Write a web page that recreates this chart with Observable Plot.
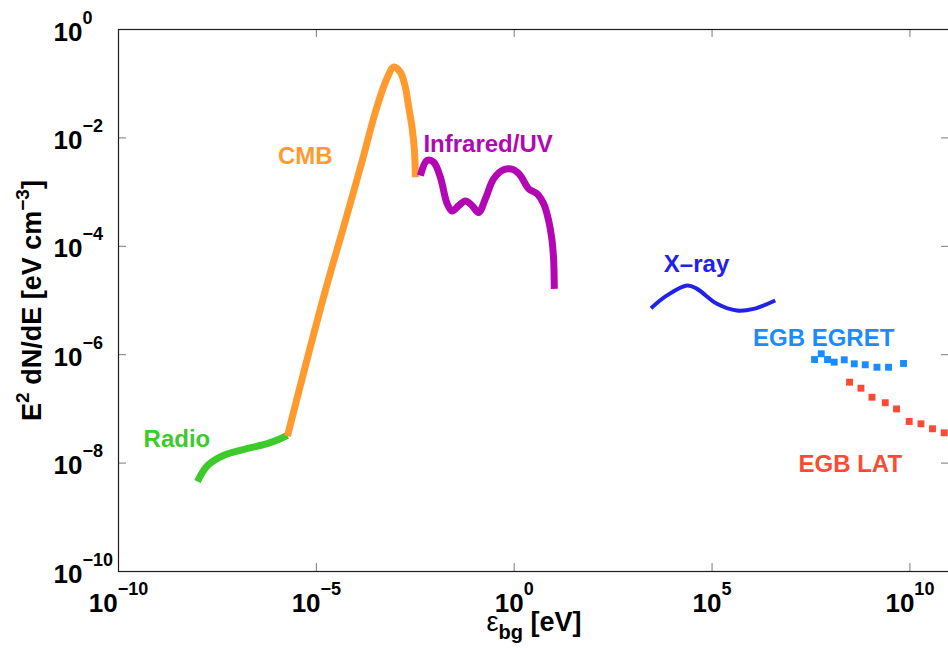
<!DOCTYPE html>
<html>
<head>
<meta charset="utf-8">
<script src="https://cdn.jsdelivr.net/npm/d3@7"></script>
<script src="https://cdn.jsdelivr.net/npm/@observablehq/plot@0.6"></script>
<style>
  html, body { margin: 0; padding: 0; background: #fff; overflow: hidden; }
  svg text { white-space: pre; }
</style>
</head>
<body>
<script>
// Photon background energy densities, E^2 dN/dE in eV cm^-3 against energy in eV.

const radioEnergy = [9.9e-9, 1.78e-8, 4.47e-8, 1.82e-7, 5.75e-7, 1.23e-6, 1.86e-6];
const radioFlux   = [4.57e-9, 9.0e-9, 1.38e-8, 1.86e-8, 2.29e-8, 2.82e-8, 3.24e-8];

const cmbEnergy = [1.86e-6, 1.51e-5, 5.43e-5, 1.38e-4, 3.30e-4, 6.07e-4, 9.12e-4,
                   1.33e-3, 1.78e-3, 2.16e-3, 2.62e-3, 3.01e-3, 3.18e-3];
const cmbFlux   = [3.16e-8, 1.135e-5, 2.99e-4, 3.37e-3, 3.48e-2, 0.1247, 0.203,
                   0.163, 8.51e-2, 3.68e-2, 1.57e-2, 5.86e-3, 1.88e-3];

const irEnergy = [4.26e-3, 6.28e-3, 9.23e-3, 1.36e-2, 2.01e-2, 2.69e-2, 3.95e-2, 5.83e-2, 8.61e-2,
                  0.126, 0.187, 0.303, 0.541, 0.968, 1.43, 2.32, 3.78, 5.55, 7.41, 9.04, 9.93, 10.3];
const irFlux   = [2.02e-3, 3.83e-3, 3.56e-3, 1.88e-3, 6.17e-4, 4.47e-4, 5.62e-4, 6.84e-4, 5.62e-4,
                  4.21e-4, 7.52e-4, 1.76e-3, 2.58e-3, 2.58e-3, 2.02e-3, 1.15e-3, 9.31e-4, 6.08e-4,
                  2.99e-4, 1.28e-4, 5.47e-5, 1.64e-5];

const xrayEnergy = [2.86e3, 7.26e3, 2.33e4, 4.16e4, 1.33e5, 4.27e5, 1.12e6, 3.95e6];
const xrayFlux   = [7.21e-6, 1.24e-5, 1.89e-5, 1.64e-5, 8.69e-6, 6.53e-6, 7.01e-6, 1.0e-5];

const egretEnergy = [3.89e7, 5.74e7, 8.28e7, 1.22e8, 2.19e8, 3.92e8, 7.43e8, 1.47e9, 2.88e9, 6.89e9];
const egretFlux   = [8.15e-7, 1.04e-6, 8.15e-7, 7.28e-7, 8.05e-7, 6.79e-7, 6.52e-7, 5.87e-7, 5.87e-7, 6.89e-7];

const latEnergy = [2.98e8, 5.78e8, 1.10e9, 2.38e9, 4.59e9, 9.59e9, 1.90e10, 3.72e10, 7.36e10];
const latFlux   = [3.11e-7, 2.41e-7, 1.64e-7, 1.30e-7, 1.00e-7, 5.86e-8, 5.31e-8, 4.30e-8, 3.62e-8];

const xTicks = [1e-10, 1e-5, 1, 1e5, 1e10];
const yTicks = [1e-10, 1e-8, 1e-6, 1e-4, 1e-2, 1];

const xTitle = "ε_{bg} [eV]";
const yTitle = "E^{2} dN/dE [eV cm^{−3}]";

// Series labels: name, colour and the point (eV, eV cm^-3) where the text baseline starts.
const seriesLabels = [
  { text: "Radio",       color: "#3ccb2a", x: 4.3e-10, y: 2.02e-8 },
  { text: "CMB",         color: "#ff9a2e", x: 1.07e-6, y: 3.37e-3 },
  { text: "Infrared/UV", color: "#b307b3", x: 5.07e-3, y: 5.5e-3 },
  { text: "X–ray",       color: "#2121ec", x: 6.04e3,  y: 3.36e-5 },
  { text: "EGB EGRET",   color: "#1a8cff", x: 1.08e6,  y: 1.42e-6 },
  { text: "EGB LAT",     color: "#ff4a33", x: 1.53e7,  y: 6.86e-9 }
];

const expLabel = v => "10^{" + String(Math.round(Math.log10(v))).replace("-", "−") + "}";
const font = "'Liberation Sans', Arial, Helvetica, sans-serif";
const tickGray = "#7a7a7a";

const chart = Plot.plot({
  width: 948,
  height: 648,
  marginLeft: 118,
  marginRight: -1,
  marginTop: 29,
  marginBottom: 77,
  style: { fontFamily: font, background: "#fff", overflow: "hidden" },
  x: { type: "log", domain: [1e-10, 1e11], axis: null },
  y: { type: "log", domain: [1e-10, 1], axis: null },
  marks: [
    // inward ticks on all four sides
    Plot.tickX(xTicks.slice(1), { x: d => d, stroke: tickGray, insetTop: 534 }),
    Plot.tickX(xTicks.slice(1), { x: d => d, stroke: tickGray, insetBottom: 534 }),
    Plot.tickY(yTicks.slice(1, -1), { y: d => d, stroke: tickGray, insetRight: 823 }),
    Plot.tickY(yTicks.slice(1, -1), { y: d => d, stroke: tickGray, insetLeft: 823 }),
    Plot.frame({ stroke: "#1c1c1c", strokeWidth: 1.2 }),

    // tick labels (exponents become superscripts below)
    Plot.text(xTicks, {
      x: d => d, frameAnchor: "bottom", dy: 40, lineAnchor: "bottom",
      text: expLabel, fontSize: 26, fontWeight: "bold", fill: "#000"
    }),
    Plot.text(yTicks, {
      y: d => d, frameAnchor: "left", dx: -65, dy: 11, textAnchor: "start", lineAnchor: "bottom",
      text: expLabel, fontSize: 26, fontWeight: "bold", fill: "#000"
    }),

    // axis titles
    Plot.text([xTitle], {
      frameAnchor: "bottom", dy: 59, lineAnchor: "bottom", textAnchor: "middle", text: d => d,
      fontSize: 27, fontWeight: "bold", fill: "#000"
    }),
    Plot.text([yTitle], {
      frameAnchor: "left", dx: -78, rotate: -90, lineAnchor: "bottom", textAnchor: "middle",
      text: d => d, fontSize: 27, fontWeight: "bold", fill: "#000"
    }),

    // spectra
    Plot.line(radioFlux, { x: radioEnergy, y: radioFlux, stroke: "#3ccb2a", strokeWidth: 7,
      curve: "catmull-rom", strokeLinecap: "butt", strokeLinejoin: "round" }),
    Plot.line(cmbFlux, { x: cmbEnergy, y: cmbFlux, stroke: "#ff9a2e", strokeWidth: 7,
      curve: "catmull-rom", strokeLinecap: "butt", strokeLinejoin: "round" }),
    Plot.line(irFlux, { x: irEnergy, y: irFlux, stroke: "#b307b3", strokeWidth: 7,
      curve: "catmull-rom", strokeLinecap: "butt", strokeLinejoin: "round" }),
    Plot.line(xrayFlux, { x: xrayEnergy, y: xrayFlux, stroke: "#2121ec", strokeWidth: 4,
      curve: "catmull-rom", strokeLinecap: "butt", strokeLinejoin: "round" }),
    Plot.dot(egretFlux, { x: egretEnergy, y: egretFlux, symbol: "square", r: 3.9,
      fill: "#1a8cff", stroke: null, clip: true }),
    Plot.dot(latFlux, { x: latEnergy, y: latFlux, symbol: "square", r: 3.9,
      fill: "#ff4a33", stroke: null, clip: true }),

    // series labels
    ...seriesLabels.map(s => Plot.text([s], {
      x: "x", y: "y", text: "text", fill: s.color, fontSize: 24, fontWeight: "bold",
      textAnchor: "start", lineAnchor: "bottom"
    }))
  ]
});

// Turn "^{..}" and "_{..}" inside a text element into raised / lowered tspans.
function richText(t, opts) {
  const ns = "http://www.w3.org/2000/svg";
  const src = t.textContent;
  t.textContent = "";
  const parts = src.split(/(\^\{[^}]*\}|_\{[^}]*\}|ε)/).filter(p => p);
  let offset = 0;
  for (const p of parts) {
    const ts = document.createElementNS(ns, "tspan");
    let shift = 0;
    if (p.startsWith("^{")) {
      ts.textContent = p.slice(2, -1);
      ts.setAttribute("font-size", opts.supSize);
      shift = -opts.supShift;
    } else if (p.startsWith("_{")) {
      ts.textContent = p.slice(2, -1);
      ts.setAttribute("font-size", opts.subSize);
      shift = opts.subShift;
    } else {
      ts.textContent = p;
      if (p === "ε") ts.setAttribute("font-weight", "normal");
    }
    if (shift - offset !== 0) ts.setAttribute("dy", shift - offset);
    offset = shift;
    t.appendChild(ts);
  }
}

chart.querySelectorAll("text").forEach(t => {
  const s = t.textContent;
  if (s.startsWith("10^{")) richText(t, { supSize: 18, supShift: 17 });
  else if (s === xTitle) richText(t, { subSize: 20, subShift: 8 });
  else if (s === yTitle) richText(t, { supSize: 19, supShift: 12 });
});

document.body.appendChild(chart);
</script>
</body>
</html>
